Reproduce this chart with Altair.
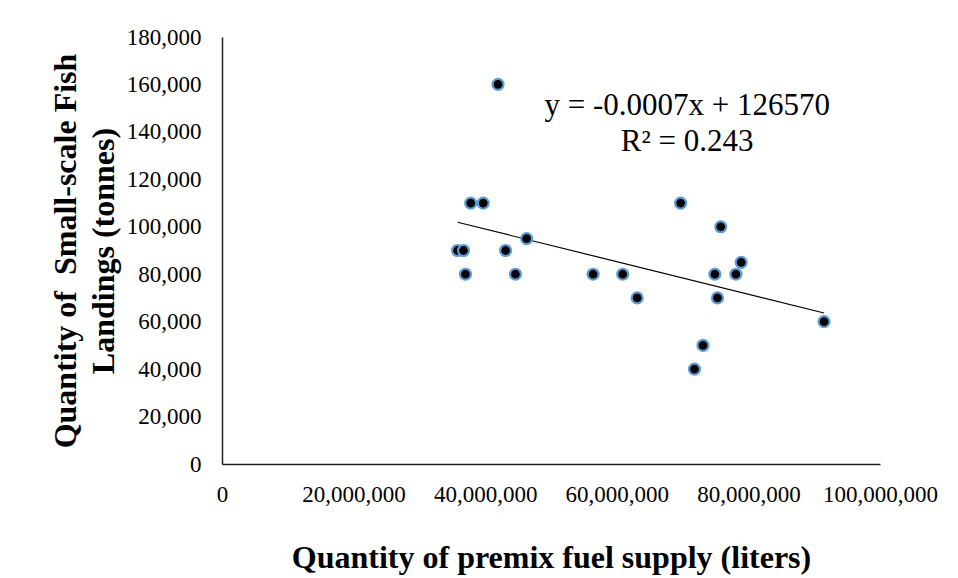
import altair as alt
import pandas as pd

# Premix fuel supply (liters) and small-scale fish landings (tonnes)
fuel_liters = [41950000, 37800000, 39700000, 35800000, 36700000, 43100000, 46300000,
               37000000, 44600000, 69700000, 75800000, 78900000, 56400000, 60900000,
               74900000, 78100000, 63100000, 75300000, 91500000, 73100000, 71800000]
fish_tonnes = [160000, 110000, 110000, 90000, 90000, 90000, 95000,
               80000, 80000, 110000, 100000, 85000, 80000, 80000,
               80000, 80000, 70000, 70000, 60000, 50000, 40000]

x_ticks = [0, 20000000, 40000000, 60000000, 80000000, 100000000]
y_ticks = [0, 20000, 40000, 60000, 80000, 100000, 120000, 140000, 160000, 180000]

eq_lines = ["y = -0.0007x + 126570", "R\u00b2 = 0.243"]
eq_x = [70700000, 70700000]
eq_y = [151000, 135800]

df = pd.DataFrame({"fuel": fuel_liters, "fish": fish_tonnes})
eq_df = pd.DataFrame({"text": eq_lines, "x": eq_x, "y": eq_y})

FONT = "Liberation Serif"

xscale = alt.Scale(domain=[0, 100000000], nice=False)
yscale = alt.Scale(domain=[0, 180000], nice=False)

xaxis = alt.Axis(values=x_ticks, format=",d", title="Quantity of premix fuel supply (liters)",
                 ticks=False, grid=False, labelPadding=19, titlePadding=36,
                 labelFontSize=23, titleFontSize=32, labelFont=FONT, titleFont=FONT,
                 titleFontWeight="bold", labelColor="black", titleColor="black",
                 domainColor="#222222", domainWidth=1.5, labelOverlap=False, labelFlush=False)
yaxis = alt.Axis(values=y_ticks, format=",d",
                 title=["Quantity of\u00a0 Small-scale Fish", "Landings (tonnes)"],
                 ticks=False, grid=False, labelPadding=21, titlePadding=6,
                 labelFontSize=23, titleFontSize=32, labelFont=FONT, titleFont=FONT,
                 titleFontWeight="bold", labelColor="black", titleColor="black",
                 titleLineHeight=38,
                 domainColor="#222222", domainWidth=1.5, labelOverlap=False, labelFlush=False)

base = alt.Chart(df)

trend = base.transform_regression("fuel", "fish").mark_line(
    color="black", strokeWidth=1.2
).encode(
    x=alt.X("fuel:Q", scale=xscale, axis=xaxis),
    y=alt.Y("fish:Q", scale=yscale, axis=yaxis),
)

points = base.mark_point(
    filled=True, fill="black", stroke="#5B9BD5", strokeWidth=2.2, size=120, opacity=1
).encode(
    x=alt.X("fuel:Q", scale=xscale),
    y=alt.Y("fish:Q", scale=yscale),
)

eq = alt.Chart(eq_df).mark_text(
    font=FONT, fontSize=31, color="black", align="center", baseline="middle"
).encode(
    x=alt.X("x:Q", scale=xscale),
    y=alt.Y("y:Q", scale=yscale),
    text="text:N",
)

chart = alt.layer(trend, points, eq).properties(
    width=658, height=427,
    autosize=alt.AutoSizeParams(type="none"),
    padding={"left": 214, "top": 29, "right": 68, "bottom": 120},
    background="white",
).configure_view(stroke=None)

chart.save("out.html", embed_options={"renderer": "svg", "actions": False})
